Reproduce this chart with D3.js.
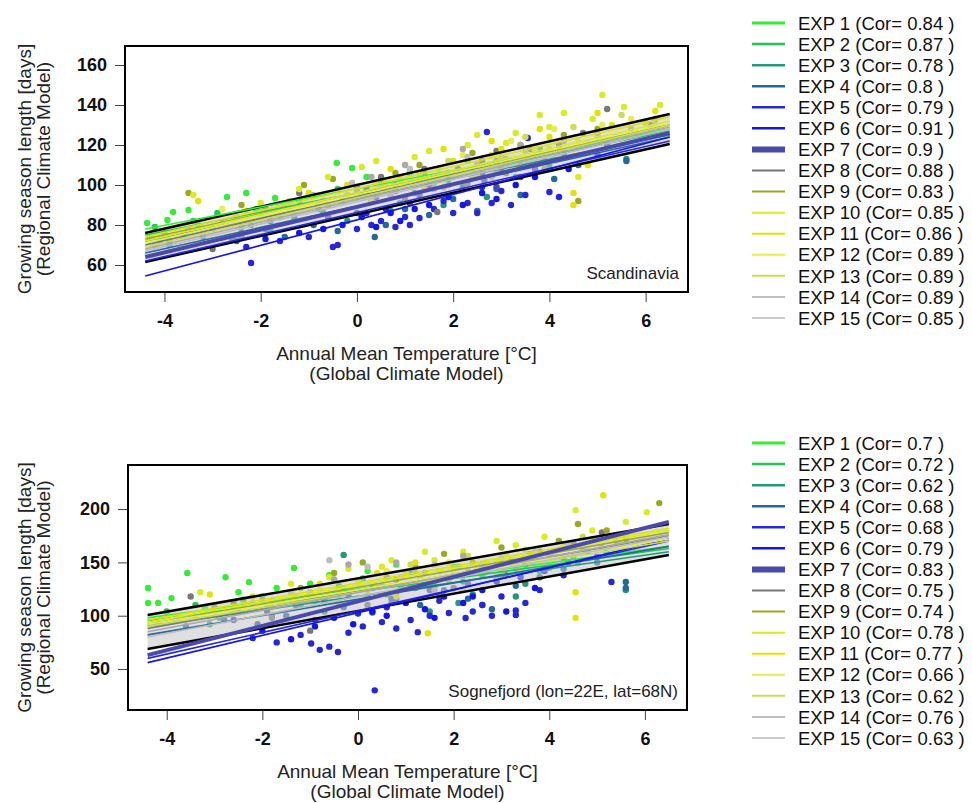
<!DOCTYPE html>
<html>
<head>
<meta charset="utf-8">
<script src="https://cdn.jsdelivr.net/npm/d3@7"></script>
<style>
  body { margin: 0; background: #fff; }
  text { font-family: "Liberation Sans", Arial, Helvetica, sans-serif; }
  .tick text { font-weight: bold; font-size: 18px; fill: #111; }
  .tick line { stroke: #444; }
</style>
</head>
<body>
<div id="viz"></div>
<script>
// experiments and correlations
var expNames = ["EXP 1","EXP 2","EXP 3","EXP 4","EXP 5","EXP 6","EXP 7","EXP 8","EXP 9","EXP 10","EXP 11","EXP 12","EXP 13","EXP 14","EXP 15"];
var corTop = ["0.84","0.87","0.78","0.8","0.79","0.91","0.9","0.88","0.83","0.85","0.86","0.89","0.89","0.89","0.85"];
var corBottom = ["0.7","0.72","0.62","0.68","0.68","0.79","0.83","0.75","0.74","0.78","0.77","0.66","0.62","0.76","0.63"];
var xTicks = [-4, -2, 0, 2, 4, 6];
var yTicksTop = [60, 80, 100, 120, 140, 160];
var yTicksBottom = [50, 100, 150, 200];

// fitted lines per experiment: [x0, y0, x1, y1]
var fitsTop = [
  [-4.4,78,6.5,128],[-4.4,75,6.5,127],[-4.4,72,6.5,125],[-4.4,66,6.5,124],[-4.4,62,6.5,122],
  [-4.4,54.5,6.5,124],[-4.4,64,6.5,126],[-4.4,70,6.5,130],[-4.4,73,6.5,130],[-4.4,72,6.5,132],
  [-4.4,74,6.5,134],[-4.4,71,6.5,131],[-4.4,69,6.5,130],[-4.4,68,6.5,129],[-4.4,67,6.5,128]
];
var fitsBottom = [
  [-4.4,98,6.5,165],[-4.4,95,6.5,163],[-4.4,90,6.5,160],[-4.4,82,6.5,165],[-4.4,60,6.5,170],
  [-4.4,56,6.5,172],[-4.4,63,6.5,188],[-4.4,88,6.5,175],[-4.4,92,6.5,178],[-4.4,94,6.5,180],
  [-4.4,96,6.5,182],[-4.4,92,6.5,172],[-4.4,90,6.5,170],[-4.4,85,6.5,176],[-4.4,80,6.5,174]
];
// black envelope lines: [x0, y0, x1, y1]
var envTop = [[-4.4,76,6.5,135.5],[-4.4,61.5,6.5,120.5]];
var envBottom = [[-4.4,100.6,6.5,186],[-4.4,68.8,6.5,157]];

// scatter points per experiment [temperature, days]
var pointsTop = [
  [[-4.36,81],[-4.3,74],[-3.94,82.5],[-3.82,86.5],[-3.5,87.5],[-3.3,80],[-2.7,94],[-2.5,84],[-2.3,96],[-2.0,89],[-1.7,93.5],[-1.4,88],[-1.0,95],[-0.42,111],[-0.1,108.5],[0.2,104],[0.6,98],[1.1,106],[1.6,101],[2.3,112]],
  [[-4.2,79],[-3.9,72],[-3.4,82],[-2.9,86],[-2.4,79],[-2.1,88],[-1.6,84],[-1.2,92],[-0.8,90],[-0.4,98],[0.1,95],[0.5,102],[0.9,91],[1.4,105],[1.9,100],[2.4,108],[3.1,111],[3.8,118]],
  [[-4.1,72],[-3.6,75],[-3.0,78],[-2.6,73],[-2.2,80],[-1.8,77],[-1.3,83],[-0.7,86],[-0.2,82],[0.3,92],[0.7,87],[1.2,96],[1.8,90],[2.2,99],[2.7,94],[3.3,104],[4.0,109],[5.6,113]],
  [[-3.9,70],[-3.2,74],[-2.5,72],[-1.9,78],[-1.5,74],[-0.9,80],[-0.4,77],[0.1,84],[0.37,74],[0.6,80],[1.0,88],[1.5,85],[2.0,93],[2.5,87],[2.9,98],[3.4,95],[4.1,103],[4.6,110],[5.6,112]],
  [[-2.2,61],[-2.3,69],[-1.6,72],[-1.0,74],[-0.5,69],[-0.4,70],[0.0,78],[0.3,80],[0.5,82],[0.8,79],[1.0,84],[1.3,83.5],[1.6,88],[2.0,86],[2.3,91],[2.5,86],[2.8,91],[3.0,97],[3.5,95],[4.0,96.5],[4.2,94],[3.55,123.5],[2.7,126.5],
   [0.2,86],[0.6,88],[1.1,80],[1.8,92],[2.6,99],[3.2,90]],
  [[-1.9,73],[-1.2,76],[-0.7,78],[-0.3,80],[0.1,84],[0.4,79],[0.7,86],[0.9,82],[1.2,88],[1.5,90],[1.9,94],[2.2,90],[2.6,96],[2.9,93],[3.3,100],[3.7,104],[4.4,108],[5.0,115]],
  [[-2.4,76],[-1.8,82],[-1.3,85],[-0.8,88],[-0.3,92],[0.0,86],[0.4,94],[0.8,97],[1.1,91],[1.5,100],[1.9,103],[2.2,98],[2.6,106],[2.65,102],[3.0,108],[3.4,104],[3.9,112],[4.3,116],[5.2,120],
   [-0.6,84],[0.2,98],[1.3,95],[2.4,104],[2.9,99],[3.7,108]],
  [[-4.0,76],[-3.0,68],[-2.4,74],[-1.9,88],[-1.2,96],[-0.6,90],[0.0,99],[0.5,104],[1.0,93],[1.67,86.5],[2.1,108],[2.6,112],[3.1,106],[3.6,118],[4.2,120],[4.7,126],[5.2,138],[6.1,130],
   [0.8,100],[1.4,108],[2.3,101],[2.9,117],[3.4,110]],
  [[-3.5,96],[-2.4,90],[-1.1,100],[-0.5,103],[0.2,96],[0.8,106],[1.3,110],[1.8,99],[2.4,116],[2.9,112],[3.4,120],[3.9,108],[4.3,125],[4.6,92],[5.0,128],[5.6,124],[6.2,133]],
  [[-3.4,95],[-2.0,91],[-1.2,98],[-0.6,104],[0.1,109],[0.6,101],[1.2,114],[1.7,108],[2.3,120],[2.8,115],[3.3,126],[3.8,135],[4.3,136],[4.6,104],[5.1,145],[5.55,139],[6.0,131],[6.3,140],
   [0.4,112],[1.5,117],[2.5,125],[3.1,121],[4.0,129],[4.9,133]],
  [[-3.3,92],[-2.3,87],[-1.0,96],[-0.2,100],[0.3,92],[0.9,103],[1.4,98],[2.0,112],[2.5,105],[3.0,118],[3.5,112],[4.0,124],[4.5,90],[4.5,96],[4.8,110],[5.3,130],[5.8,126],[6.2,137],
   [0.7,108],[1.8,118],[2.8,122],[3.8,128],[4.2,116],[5.0,136]],
  [[-2.8,88],[-1.6,90],[-0.4,97],[0.4,100],[1.0,110],[1.6,104],[2.2,115],[2.7,109],[3.2,122],[3.7,118],[4.1,128],[4.6,122],[5.1,130],[5.7,133],[6.3,128]],
  [[-2.5,84],[-1.4,92],[-0.2,95],[0.6,98],[1.3,106],[1.9,112],[2.4,104],[3.0,114],[3.5,124],[4.0,118],[4.5,129],[5.0,124],[5.5,135],[6.1,127]],
  [[-4.2,70],[-3.5,78],[-2.8,81],[-2.0,84],[-1.3,86],[-0.7,92],[0.0,97],[0.7,95],[1.3,102],[1.9,106],[2.5,110],[3.1,113],[3.7,115],[4.3,122],[5.0,126],[5.7,128],
   [0.3,104],[1.0,110],[1.6,98],[2.2,118],[2.8,104],[3.4,120]],
  [[-4.0,74],[-3.2,76],[-2.3,82],[-1.5,89],[-0.9,95],[-0.1,101],[0.5,99],[1.1,108],[1.7,104],[2.3,114],[2.9,107],[3.5,117],[4.1,113],[4.8,121],[5.4,124],[6.2,130]]
];
var pointsBottom = [
  [[-4.39,126],[-4.39,112],[-4.18,112],[-3.9,116.5],[-3.57,140],[-3.2,108],[-2.77,136],[-2.5,122],[-2.28,131.5],[-2.0,118],[-1.7,126],[-1.34,144.7],[-1.0,130],[-0.6,138],[-0.3,125],[0.2,142],[0.8,148],[1.4,132],[2.0,146],[3.0,150]],
  [[-4.0,104],[-3.4,110],[-2.9,98],[-2.4,115],[-1.9,108],[-1.4,122],[-0.9,114],[-0.4,128],[0.1,135],[0.6,120],[1.1,140],[1.6,128],[2.1,146],[2.6,138],[3.2,150],[3.8,142],[4.5,155],[5.2,160]],
  [[-3.8,98],[-3.1,92],[-2.5,104],[-1.8,100],[-1.2,110],[-0.7,104],[-0.3,157],[0.2,118],[0.7,112],[1.2,126],[1.7,118],[2.2,132],[2.6,110],[3.0,138],[3.5,130],[4.0,145],[4.6,150],[5.6,124],
   [0.9,128],[1.5,104],[2.1,112],[2.4,120],[3.3,118]],
  [[-3.6,90],[-2.8,96],[-2.1,92],[-1.5,100],[-0.9,96],[-0.3,108],[0.3,103],[0.8,116],[1.3,110],[1.8,124],[2.3,116],[2.8,106],[3.3,128],[3.8,136],[4.3,144],[5.0,150],[5.6,131.6],[5.6,126]],
  [[-2.2,79],[-1.7,75],[-1.2,82],[-0.98,74],[-0.8,68],[-0.6,71],[-0.42,66],[-0.2,84],[0.1,90],[0.35,30],[0.5,94],[0.8,88],[1.25,84.6],[1.5,100],[1.9,102.5],[2.25,97.8],[2.6,110],[3.0,118],[3.3,105],[3.3,100.6],[3.8,124],[4.3,138],[5.3,131.6],
   [0.0,102],[0.6,108],[1.1,96],[1.7,114],[2.4,104],[2.8,100],[3.5,112]],
  [[-2.0,86],[-1.4,78],[-0.9,90],[-0.5,98],[-0.1,92],[0.3,104],[0.6,100],[1.0,112],[1.4,106],[1.8,118],[2.2,112],[2.6,124],[2.9,132],[3.4,136],[3.9,142],[4.4,150],[5.0,155],
   [0.8,122],[1.6,98],[2.4,118],[3.1,104],[3.7,126]],
  [[-2.6,96],[-1.9,104],[-1.3,110],[-0.7,114],[-0.2,120],[0.3,126],[0.7,116],[1.1,130],[1.5,124],[1.9,136],[2.3,130],[2.7,142],[3.1,138],[3.5,148],[3.9,144],[4.3,154],[4.8,160]],
  [[-3.5,118],[-2.6,112],[-1.8,98],[-1.0,86],[-0.4,120],[0.2,110],[0.8,134],[1.4,140],[2.0,126],[2.6,145],[3.2,152],[3.8,160],[4.5,168],[5.1,178],[5.6,172]],
  [[-3.0,108],[-2.0,114],[-1.2,126],[-0.5,140],[0.1,150],[0.6,136],[1.2,146],[1.8,158],[2.4,150],[3.0,164],[3.6,158],[4.2,170],[4.6,186],[5.2,180],[6.3,205.6]],
  [[-3.3,122],[-2.2,118],[-1.4,130],[-0.6,136],[0.0,132],[0.5,146],[1.0,140],[1.6,152],[2.2,160],[2.7,150],[3.3,166],[3.9,174],[4.55,199],[4.9,180],[5.6,188],[6.04,197],
   [-0.2,144],[0.7,152],[1.4,160],[2.0,138],[2.9,170],[3.6,150]],
  [[-3.1,120],[-1.8,108],[-1.0,118],[-0.4,112],[0.2,124],[0.8,118],[1.46,83.5],[1.9,132],[2.5,146],[3.0,140],[3.6,155],[4.2,162],[4.55,98],[4.55,122],[5.13,213],[5.6,176],
   [-0.8,130],[0.4,140],[1.2,150],[2.2,124],[3.3,150],[4.0,146]],
  [[-2.7,104],[-1.6,112],[-0.8,124],[0.0,130],[0.6,142],[1.3,136],[1.9,150],[2.5,144],[3.1,158],[3.7,152],[4.3,166],[4.9,172],[5.5,168]],
  [[-2.4,110],[-1.3,118],[-0.5,134],[0.4,128],[1.1,148],[1.7,142],[2.3,156],[2.9,150],[3.5,162],[4.1,158],[4.7,174],[5.4,170]],
  [[-4.2,92],[-3.4,100],[-2.6,106],[-1.8,114],[-1.0,122],[-0.2,148],[0.5,128],[1.2,140],[1.9,134],[2.6,148],[3.3,144],[4.0,158],[4.7,162],[5.4,170],
   [-0.5,134],[0.8,150],[1.6,124],[2.2,156],[2.9,136]],
  [[-3.8,96],[-3.0,104],[-2.2,112],[-1.4,122],[-0.6,152],[0.2,146],[0.9,136],[1.6,148],[2.3,142],[3.0,154],[3.7,160],[4.4,166],[5.1,164]]
];

// styles
var expColors = ["#33ee33","#22c455","#229977","#236a9c","#2626dd","#1414ee","#4a4aae","#777777",
                 "#99aa22","#d9ec22","#e0e400","#e8ec50","#ccdc55","#a9a9a9","#bdbdbd"];
var lineWidths = [3, 2.5, 2.5, 2.5, 2.5, 2.5, 6, 2, 2, 2, 2, 2, 2, 1.5, 1.5];

var svg = d3.select("#viz").append("svg")
    .attr("width", 972)
    .attr("height", 803);

function drawPanel(p) {
    var x = d3.scaleLinear().domain(p.xDomain).range([p.left, p.right]);
    var y = d3.scaleLinear().domain(p.yDomain).range([p.bottom, p.top]);
    var g = svg.append("g");

    // scatter
    p.points.forEach(function(pts, i) {
        g.selectAll(null)
            .data(pts)
            .enter()
            .append("circle")
            .attr("cx", function(d) { return x(d[0]); })
            .attr("cy", function(d) { return y(d[1]); })
            .attr("r", 3.2)
            .attr("fill", expColors[i]);
    });

    // grey band between the envelope lines
    var band = [[p.env[0][0], p.env[0][1]], [p.env[0][2], p.env[0][3]],
                [p.env[1][2], p.env[1][3]], [p.env[1][0], p.env[1][1]]];
    g.append("path")
        .attr("d", d3.line().x(function(d) { return x(d[0]); }).y(function(d) { return y(d[1]); })(band) + "Z")
        .attr("fill", "#c4c4c4")
        .attr("opacity", 0.55);

    // envelope
    g.selectAll(null)
        .data(p.env)
        .enter()
        .append("line")
        .attr("x1", function(d) { return x(d[0]); })
        .attr("y1", function(d) { return y(d[1]); })
        .attr("x2", function(d) { return x(d[2]); })
        .attr("y2", function(d) { return y(d[3]); })
        .attr("stroke", "#000")
        .attr("stroke-width", 2.5);

    // fitted lines, EXP 7 last and thicker
    var order = [0,1,2,3,4,5,7,8,9,10,11,12,13,14,6];
    order.forEach(function(i) {
        var d = p.fits[i];
        g.append("line")
            .attr("x1", x(d[0])).attr("y1", y(d[1]))
            .attr("x2", x(d[2])).attr("y2", y(d[3]))
            .attr("stroke", expColors[i])
            .attr("stroke-width", i == 6 ? 4 : 1.6);
    });

    // axes
    var xAxis = d3.axisBottom(x).tickValues(xTicks).tickSize(10).tickPadding(12)
        .tickFormat(function(d) { return d; });
    var gx = g.append("g")
        .attr("transform", "translate(0," + p.bottom + ")")
        .call(xAxis);
    gx.select(".domain").remove();

    var yAxis = d3.axisLeft(y).tickValues(p.yTicks).tickSize(10).tickPadding(8);
    var gy = g.append("g")
        .attr("transform", "translate(" + p.left + ",0)")
        .call(yAxis);
    gy.select(".domain").remove();

    // frame
    g.append("rect")
        .attr("x", p.left).attr("y", p.top)
        .attr("width", p.right - p.left).attr("height", p.bottom - p.top)
        .attr("fill", "none")
        .attr("stroke", "#000")
        .attr("stroke-width", 2);

    // region label
    g.append("text")
        .attr("x", p.right - 9).attr("y", p.bottom - 13)
        .attr("text-anchor", "end")
        .style("font-size", "17px")
        .attr("fill", "#222")
        .text(p.region);

    // axis titles
    var cx = (p.left + p.right) / 2;
    g.append("text").attr("x", cx).attr("y", p.bottom + 68)
        .attr("text-anchor", "middle").style("font-size", "19px").attr("fill", "#222")
        .text("Annual Mean Temperature [°C]");
    g.append("text").attr("x", cx).attr("y", p.bottom + 88)
        .attr("text-anchor", "middle").style("font-size", "19px").attr("fill", "#222")
        .text("(Global Climate Model)");
    var cy = (p.top + p.bottom) / 2;
    g.append("text").attr("transform", "translate(31," + cy + ") rotate(-90)")
        .attr("text-anchor", "middle").style("font-size", "19px").attr("fill", "#222")
        .text("Growing season length [days]");
    g.append("text").attr("transform", "translate(50," + cy + ") rotate(-90)")
        .attr("text-anchor", "middle").style("font-size", "19px").attr("fill", "#222")
        .text("(Regional Climate Model)");

    // legend
    var lg = svg.append("g").attr("transform", "translate(0," + p.legendTop + ")");
    var rows = lg.selectAll("g")
        .data(expNames)
        .enter()
        .append("g")
        .attr("transform", function(d, i) { return "translate(0," + (i * 21.07) + ")"; });
    rows.append("line")
        .attr("x1", 752).attr("x2", 785)
        .attr("stroke", function(d, i) { return expColors[i]; })
        .attr("stroke-width", function(d, i) { return lineWidths[i]; });
    rows.append("text")
        .attr("x", 798).attr("y", 0).attr("dy", "0.36em")
        .style("font-size", "18.5px").attr("fill", "#111")
        .text(function(d, i) { return d + " (Cor= " + p.cor[i] + " )"; });
}

drawPanel({
    left: 125, right: 688, top: 46, bottom: 292,
    xDomain: [-4.82, 6.88], yDomain: [46.5, 169.5],
    yTicks: yTicksTop, points: pointsTop, fits: fitsTop, env: envTop,
    region: "Scandinavia", cor: corTop, legendTop: 23
});
drawPanel({
    left: 128, right: 687, top: 465, bottom: 710,
    xDomain: [-4.81, 6.88], yDomain: [11.6, 241.3],
    yTicks: yTicksBottom, points: pointsBottom, fits: fitsBottom, env: envBottom,
    region: "Sognefjord (lon=22E, lat=68N)", cor: corBottom, legendTop: 443
});
</script>
</body>
</html>
